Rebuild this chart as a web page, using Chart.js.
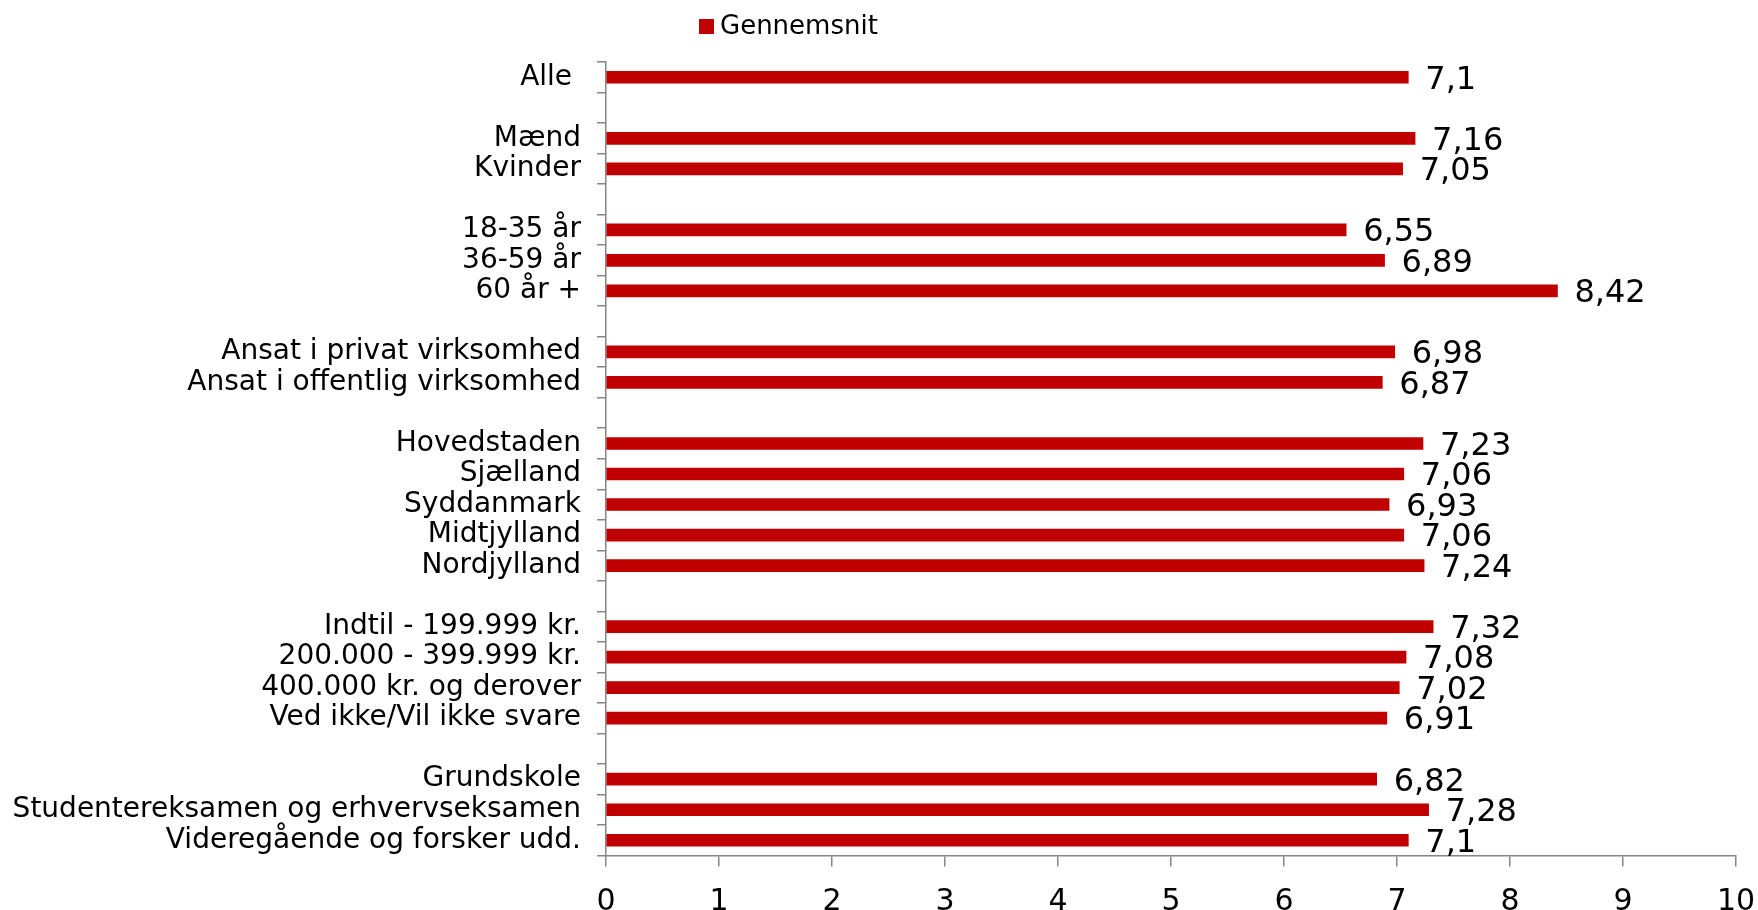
<!DOCTYPE html>
<html>
<head>
<meta charset="utf-8">
<script src="https://cdn.jsdelivr.net/npm/chart.js@4.4.0/dist/chart.umd.min.js"></script>
<style>
  html, body { margin: 0; padding: 0; background: #fff; }
  canvas { display: block; }
</style>
</head>
<body>
<canvas id="gennemsnitChart" width="1758" height="910"></canvas>
<script>
// empty strings / nulls are the spacer rows between groups
const categories = [
    'Alle ', '',
    'Mænd', 'Kvinder', '',
    '18-35 år', '36-59 år', '60 år +', '',
    'Ansat i privat virksomhed', 'Ansat i offentlig virksomhed', '',
    'Hovedstaden', 'Sjælland', 'Syddanmark', 'Midtjylland', 'Nordjylland', '',
    'Indtil - 199.999 kr.', '200.000 - 399.999 kr.', '400.000 kr. og derover', 'Ved ikke/Vil ikke svare', '',
    'Grundskole', 'Studentereksamen og erhvervseksamen', 'Videregående og forsker udd.'
];
const gennemsnit = [
    7.1, null,
    7.16, 7.05, null,
    6.55, 6.89, 8.42, null,
    6.98, 6.87, null,
    7.23, 7.06, 6.93, 7.06, 7.24, null,
    7.32, 7.08, 7.02, 6.91, null,
    6.82, 7.28, 7.1
];
const xTicks = [0, 1, 2, 3, 4, 5, 6, 7, 8, 9, 10];

const FONT = "'DejaVu Sans', Verdana, sans-serif";
const BAR_RED = '#C00000';
const AXIS_GRAY = '#868686';

// value labels at the end of each bar, Danish decimal comma
const valueLabels = {
    id: 'valueLabels',
    afterDatasetsDraw(chart) {
        const ctx = chart.ctx;
        const meta = chart.getDatasetMeta(0);
        ctx.save();
        ctx.font = '32px ' + FONT;
        ctx.fillStyle = '#000';
        ctx.textAlign = 'left';
        ctx.textBaseline = 'middle';
        meta.data.forEach((bar, i) => {
            const v = chart.data.datasets[0].data[i];
            if (v === null) return;
            ctx.fillText(String(v).replace('.', ','), bar.x + 17, bar.y + 3);
        });
        ctx.restore();
    }
};

// legend sits left of centre in the original, so draw it by hand
const topLegend = {
    id: 'topLegend',
    afterDraw(chart) {
        const ctx = chart.ctx;
        const ds = chart.data.datasets[0];
        ctx.save();
        ctx.fillStyle = ds.backgroundColor;
        ctx.fillRect(699, 19, 15, 15);
        ctx.font = '26px ' + FONT;
        ctx.fillStyle = '#000';
        ctx.textAlign = 'left';
        ctx.textBaseline = 'middle';
        ctx.fillText(ds.label, 720, 27);
        ctx.restore();
    }
};

new Chart(document.getElementById('gennemsnitChart'), {
    type: 'bar',
    data: {
        labels: categories,
        datasets: [{
            label: 'Gennemsnit',
            data: gennemsnit,
            backgroundColor: BAR_RED,
            borderWidth: 0,
            barThickness: 12
        }]
    },
    options: {
        indexAxis: 'y',
        responsive: false,
        animation: false,
        layout: {
            padding: { top: 62, right: 22, left: 0, bottom: 0 }
        },
        plugins: {
            legend: { display: false },
            tooltip: { enabled: false }
        },
        scales: {
            y: {
                afterFit(scale) {
                    scale.width = 606;
                    scale.paddingTop = 0;
                    scale.paddingBottom = 0;
                },
                grid: {
                    offset: true,
                    drawOnChartArea: false,
                    drawTicks: true,
                    tickLength: 9,
                    color: AXIS_GRAY,
                    lineWidth: 1.5
                },
                border: { display: true, color: AXIS_GRAY, width: 1.5 },
                ticks: {
                    autoSkip: false,
                    color: '#000',
                    padding: 16,
                    font: { family: FONT, size: 28 }
                }
            },
            x: {
                min: xTicks[0],
                max: xTicks[xTicks.length - 1],
                afterFit(scale) {
                    scale.height = 54.5;
                    scale.paddingLeft = 0;
                    scale.paddingRight = 0;
                },
                afterBuildTicks(scale) {
                    scale.ticks = xTicks.map(v => ({ value: v }));
                },
                grid: {
                    drawOnChartArea: false,
                    drawTicks: true,
                    tickLength: 11,
                    color: AXIS_GRAY,
                    lineWidth: 1.5
                },
                border: { display: true, color: AXIS_GRAY, width: 1.5 },
                ticks: {
                    color: '#000',
                    padding: 18,
                    font: { family: FONT, size: 30 }
                }
            }
        }
    },
    plugins: [valueLabels, topLegend]
});
</script>
</body>
</html>
